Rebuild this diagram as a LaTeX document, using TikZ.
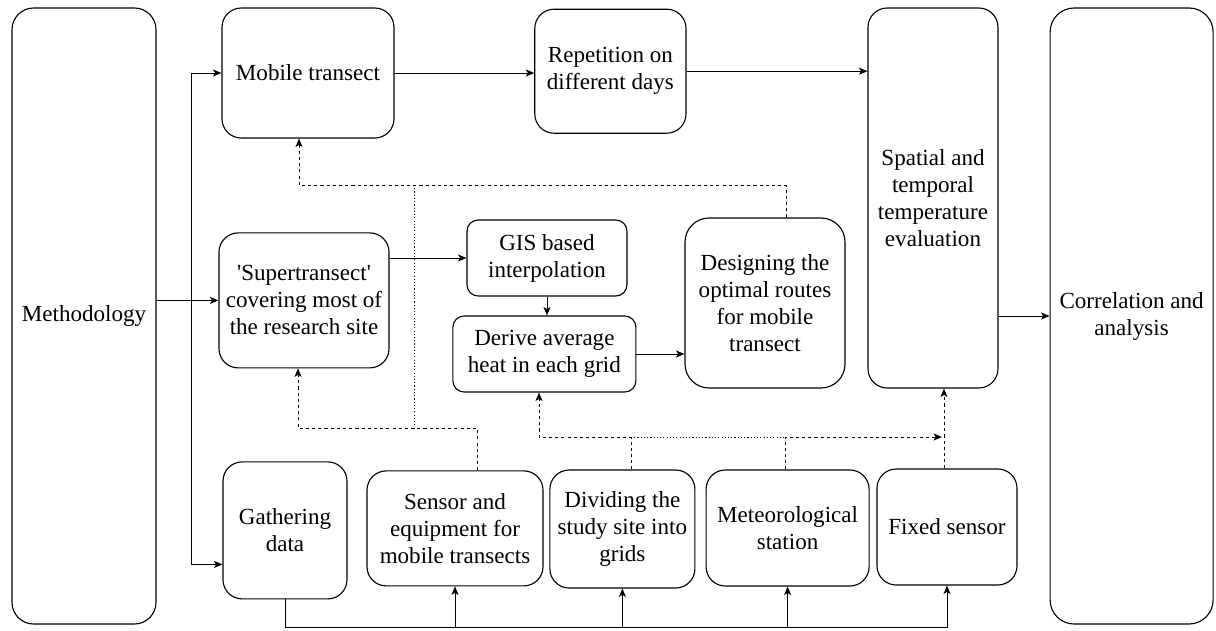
\documentclass[tikz,border=0pt]{standalone}
\usepackage{fontspec}
\setmainfont{Liberation Serif}
\usetikzlibrary{arrows.meta}

\tikzset{
  box/.style={draw,line width=0.8pt,rounded corners=0.48cm,align=center,inner sep=0pt},
  thinbox/.style={box,rounded corners=0.28cm},
  arr/.style={-{Stealth[length=6pt,width=5pt,inset=1.5pt]}},
  dsh/.style={dash pattern=on 2.2pt off 2.2pt},
  dotline/.style={dash pattern=on 0.8pt off 1.5pt},
}

\begin{document}
\begin{tikzpicture}[font=\fontsize{16.4}{19.2}\selectfont,line width=0.7pt]
\useasboundingbox (0,0) rectangle (30.4,15.75);
% outer columns
\node[box,rounded corners=0.54cm,minimum width=3.6cm,minimum height=15.4cm] (meth) at (2.1,7.85) {Methodology};
\node[box,rounded corners=0.6cm,minimum width=4.075cm,minimum height=15.4cm] (corr) at (28.29,7.85) {Correlation and\\analysis};
% top row
\node[box,minimum width=4.3cm,minimum height=3.25cm] (mobile) at (7.7,13.925) {Mobile transect};
\node[box,minimum width=3.78cm,minimum height=3.1cm] (repeat) at (15.26,13.97) {Repetition on\\different days};
\node[box,minimum width=3.25cm,minimum height=9.5cm] (spatial) at (23.325,10.8) {Spatial and\\temporal\\temperature\\evaluation};
% middle row
\node[box,minimum width=4.25cm,minimum height=3.375cm] (super) at (7.6,8.24) {\textquotesingle Supertransect\textquotesingle\\covering most of\\the research site};
\node[thinbox,minimum width=4cm,minimum height=1.9cm] (gis) at (13.675,9.3) {GIS based\\interpolation};
\node[thinbox,minimum width=4.575cm,minimum height=1.9cm] (derive) at (13.61,6.9) {Derive average\\heat in each grid};
\node[box,rounded corners=0.6cm,minimum width=4cm,minimum height=4.25cm] (design) at (19.125,8.175) {Designing the\\optimal routes\\for mobile\\transect};
% bottom row
\node[box,minimum width=3.1cm,minimum height=3.425cm] (gather) at (7.125,2.49) {Gathering\\data};
\node[box,minimum width=4.4cm,minimum height=2.875cm] (sensor) at (11.375,2.54) {Sensor and\\equipment for\\mobile transects};
\node[box,minimum width=3.625cm,minimum height=2.95cm] (divide) at (15.56,2.525) {Dividing the\\study site into\\grids};
\node[box,minimum width=4.075cm,minimum height=2.9cm] (meteo) at (19.69,2.55) {Meteorological\\station};
\node[box,minimum width=3.5cm,minimum height=2.9cm] (fixed) at (23.675,2.575) {Fixed sensor};

% main flow
\coordinate (split) at (4.775,8.24);
\draw[arr] (meth.east |- super.west) -- (super.west);
\draw[arr] (split) |- (mobile.west);
\draw[arr] (split) |- ([yshift=-0.85cm]gather.west);
\draw[arr] (mobile.east) -- (mobile.east -| repeat.west);
\draw[arr] (repeat.east) -- (repeat.east -| spatial.west);
\draw[arr] (spatial.east |- corr.west) -- (corr.west);
\draw[arr] (super.east |- gis.west) -- (gis.west);
\draw[arr] (gis.south) -- (gis.south |- derive.north);
\draw[arr] (derive.east) -- (derive.east -| design.west);

% data bus under the bottom row
\coordinate (bus) at (0,0.06);
\draw[arr] (gather.south) |- (fixed.south |- bus) -- (fixed.south);
\foreach \n in {sensor,divide,meteo}
  \draw[arr] (\n.south |- bus) -- (\n.south);

% dashed feedback
\coordinate (upA) at (7.475,11.125);
\coordinate (lowA) at (7.45,5.05);
\coordinate (tie) at (10.35,0);
\coordinate (midA) at (13.475,4.825);
\coordinate (midB) at (15.775,4.825);
\coordinate (midC) at (19.625,4.825);
\coordinate (midD) at (23.55,4.825);
\coordinate (rise) at (23.6,0);
\draw[dsh,arr] ([xshift=0.525cm]design.north) |- (upA) -- (upA |- mobile.south);
\draw[dsh,arr] ([xshift=0.55cm]sensor.north) |- (lowA) -- (lowA |- super.south);
\draw[dotline] (tie |- upA) -- (tie |- lowA);
\draw[dsh,arr] (divide.north -| midB) -- (midB) -- (midA) -- (midA |- derive.south);
\draw[dotline] (midB) -- (midC);
\draw[dsh,arr] (meteo.north -| midC) -- (midC) -- (midD);
\draw[dsh,arr] (fixed.north -| rise) -- (spatial.south -| rise);
\end{tikzpicture}
\end{document}
